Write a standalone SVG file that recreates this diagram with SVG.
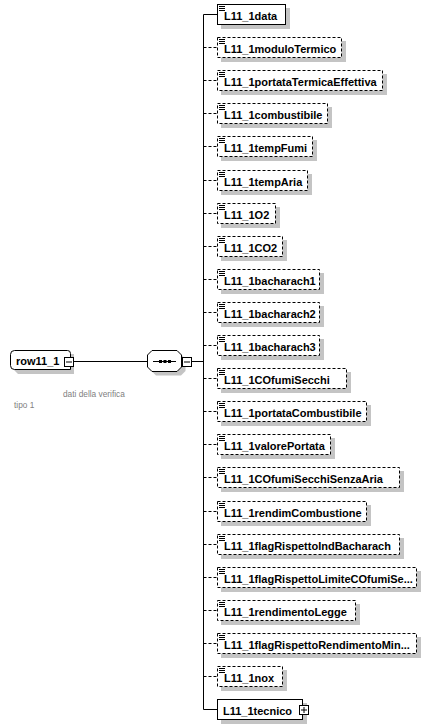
<svg xmlns="http://www.w3.org/2000/svg" width="436" height="728" viewBox="0 0 436 728">
<style>
.bg{fill:#ffffff}
.sh{fill:#c4c4c4}
.box{fill:#ffffff;stroke:#000;stroke-width:1}
.opt{fill:#ffffff;stroke:#000;stroke-width:1;stroke-dasharray:3,2}
.ln{fill:none;stroke:#000;stroke-width:1}
.dl{fill:none;stroke:#000;stroke-width:1;stroke-dasharray:3,2}
.t{font-family:"Liberation Sans",Arial,sans-serif;font-weight:bold;font-size:11px;fill:#000}
.n{font-family:"Liberation Sans",Arial,sans-serif;font-size:8.3px;fill:#808080}
.ic{fill:none;stroke:#000;stroke-width:1}
</style>
<rect class="bg" x="0" y="0" width="436" height="728"/>
<g id="connectors">
<path class="ln" d="M73 361.5H147.5M192 361.5H203.5M203.5 14.5V709.5"/>
<path class="ln" d="M203.5 14.5H217.5M203.5 709.5H217.5"/>
<path class="dl" d="M203.5 47.5H217.5M203.5 80.5H217.5M203.5 113.5H217.5M203.5 146.5H217.5M203.5 180.5H217.5M203.5 213.5H217.5M203.5 246.5H217.5M203.5 279.5H217.5M203.5 312.5H217.5M203.5 345.5H217.5M203.5 378.5H217.5M203.5 411.5H217.5M203.5 444.5H217.5M203.5 477.5H217.5M203.5 511.5H217.5M203.5 544.5H217.5M203.5 577.5H217.5M203.5 610.5H217.5M203.5 643.5H217.5M203.5 676.5H217.5"/>
</g>
<g id="row11_1">
<path class="sh" d="M18 354H74V374H18L14 370V358Z"/>
<path class="box" d="M14.5 350.5H67.5Q70.5 350.5 70.5 353.5V369.5H14.5Q10.5 369.5 10.5 365.5V354.5Q10.5 350.5 14.5 350.5Z"/>
<text class="t" x="16" y="365">row11_1</text>
<rect class="box" x="64.5" y="357.5" width="9" height="9"/>
<path class="ln" d="M66 362H72"/>
<text class="n" x="63" y="397">dati della verifica</text>
<text class="n" x="14" y="408">tipo 1</text>
</g>
<g id="sequence">
<path class="sh" d="M156 354.5H181L185.5 359V371L181 375.5H156L151.5 371V359Z"/>
<path class="box" d="M152 350.5H177L181.5 355V367L177 371.5H152L147.5 367V355Z"/>
<path class="ln" d="M153 361.5H176"/>
<rect x="159" y="360" width="3" height="3" fill="#000"/>
<rect x="163.5" y="360" width="3" height="3" fill="#000"/>
<rect x="168" y="360" width="3" height="3" fill="#000"/>
<rect class="box" x="182.5" y="357.5" width="9" height="9"/>
<path class="ln" d="M184 362H190"/>
</g>
<g id="L11_1data">
<rect class="sh" x="221" y="8" width="69" height="21"/>
<rect class="box" x="217.5" y="4.5" width="68" height="20"/>
<path class="ic" d="M219 6.5h6M219 8.5h6M219 10.5h6"/>
<text class="t" x="224" y="20">L11_1data</text>
</g>
<g id="L11_1moduloTermico">
<rect class="sh" x="221" y="41" width="125" height="21"/>
<rect class="opt" x="217.5" y="37.5" width="124" height="20"/>
<path class="ic" d="M219 39.5h6M219 41.5h6M219 43.5h6"/>
<text class="t" x="224" y="53">L11_1moduloTermico</text>
</g>
<g id="L11_1portataTermicaEffettiva">
<rect class="sh" x="221" y="74" width="166" height="21"/>
<rect class="opt" x="217.5" y="70.5" width="165" height="20"/>
<path class="ic" d="M219 72.5h6M219 74.5h6M219 76.5h6"/>
<text class="t" x="224" y="86">L11_1portataTermicaEffettiva</text>
</g>
<g id="L11_1combustibile">
<rect class="sh" x="221" y="107" width="111" height="21"/>
<rect class="opt" x="217.5" y="103.5" width="110" height="20"/>
<path class="ic" d="M219 105.5h6M219 107.5h6M219 109.5h6"/>
<text class="t" x="224" y="119">L11_1combustibile</text>
</g>
<g id="L11_1tempFumi">
<rect class="sh" x="221" y="140" width="96" height="21"/>
<rect class="opt" x="217.5" y="136.5" width="95" height="20"/>
<path class="ic" d="M219 138.5h6M219 140.5h6M219 142.5h6"/>
<text class="t" x="224" y="152">L11_1tempFumi</text>
</g>
<g id="L11_1tempAria">
<rect class="sh" x="221" y="174" width="91" height="21"/>
<rect class="opt" x="217.5" y="170.5" width="90" height="20"/>
<path class="ic" d="M219 172.5h6M219 174.5h6M219 176.5h6"/>
<text class="t" x="224" y="186">L11_1tempAria</text>
</g>
<g id="L11_1O2">
<rect class="sh" x="221" y="207" width="59" height="21"/>
<rect class="opt" x="217.5" y="203.5" width="58" height="20"/>
<path class="ic" d="M219 205.5h6M219 207.5h6M219 209.5h6"/>
<text class="t" x="224" y="219">L11_1O2</text>
</g>
<g id="L11_1CO2">
<rect class="sh" x="221" y="240" width="66" height="21"/>
<rect class="opt" x="217.5" y="236.5" width="65" height="20"/>
<path class="ic" d="M219 238.5h6M219 240.5h6M219 242.5h6"/>
<text class="t" x="224" y="252">L11_1CO2</text>
</g>
<g id="L11_1bacharach1">
<rect class="sh" x="221" y="273" width="103" height="21"/>
<rect class="opt" x="217.5" y="269.5" width="102" height="20"/>
<path class="ic" d="M219 271.5h6M219 273.5h6M219 275.5h6"/>
<text class="t" x="224" y="285">L11_1bacharach1</text>
</g>
<g id="L11_1bacharach2">
<rect class="sh" x="221" y="306" width="103" height="21"/>
<rect class="opt" x="217.5" y="302.5" width="102" height="20"/>
<path class="ic" d="M219 304.5h6M219 306.5h6M219 308.5h6"/>
<text class="t" x="224" y="318">L11_1bacharach2</text>
</g>
<g id="L11_1bacharach3">
<rect class="sh" x="221" y="339" width="103" height="21"/>
<rect class="opt" x="217.5" y="335.5" width="102" height="20"/>
<path class="ic" d="M219 337.5h6M219 339.5h6M219 341.5h6"/>
<text class="t" x="224" y="351">L11_1bacharach3</text>
</g>
<g id="L11_1COfumiSecchi">
<rect class="sh" x="221" y="372" width="130" height="21"/>
<rect class="opt" x="217.5" y="368.5" width="129" height="20"/>
<path class="ic" d="M219 370.5h6M219 372.5h6M219 374.5h6"/>
<text class="t" x="224" y="384">L11_1COfumiSecchi</text>
</g>
<g id="L11_1portataCombustibile">
<rect class="sh" x="221" y="405" width="150" height="21"/>
<rect class="opt" x="217.5" y="401.5" width="149" height="20"/>
<path class="ic" d="M219 403.5h6M219 405.5h6M219 407.5h6"/>
<text class="t" x="224" y="417">L11_1portataCombustibile</text>
</g>
<g id="L11_1valorePortata">
<rect class="sh" x="221" y="438" width="114" height="21"/>
<rect class="opt" x="217.5" y="434.5" width="113" height="20"/>
<path class="ic" d="M219 436.5h6M219 438.5h6M219 440.5h6"/>
<text class="t" x="224" y="450">L11_1valorePortata</text>
</g>
<g id="L11_1COfumiSecchiSenzaAria">
<rect class="sh" x="221" y="471" width="183" height="21"/>
<rect class="opt" x="217.5" y="467.5" width="182" height="20"/>
<path class="ic" d="M219 469.5h6M219 471.5h6M219 473.5h6"/>
<text class="t" x="224" y="483">L11_1COfumiSecchiSenzaAria</text>
</g>
<g id="L11_1rendimCombustione">
<rect class="sh" x="221" y="505" width="150" height="21"/>
<rect class="opt" x="217.5" y="501.5" width="149" height="20"/>
<path class="ic" d="M219 503.5h6M219 505.5h6M219 507.5h6"/>
<text class="t" x="224" y="517">L11_1rendimCombustione</text>
</g>
<g id="L11_1flagRispettoIndBacharach">
<rect class="sh" x="221" y="538" width="183" height="21"/>
<rect class="opt" x="217.5" y="534.5" width="182" height="20"/>
<path class="ic" d="M219 536.5h6M219 538.5h6M219 540.5h6"/>
<text class="t" x="224" y="550">L11_1flagRispettoIndBacharach</text>
</g>
<g id="L11_1flagRispettoLimiteCOfumiSecchi">
<rect class="sh" x="221" y="571" width="200" height="21"/>
<rect class="opt" x="217.5" y="567.5" width="199" height="20"/>
<path class="ic" d="M219 569.5h6M219 571.5h6M219 573.5h6"/>
<text class="t" x="224" y="583">L11_1flagRispettoLimiteCOfumiSe...</text>
</g>
<g id="L11_1rendimentoLegge">
<rect class="sh" x="221" y="604" width="139" height="21"/>
<rect class="opt" x="217.5" y="600.5" width="138" height="20"/>
<path class="ic" d="M219 602.5h6M219 604.5h6M219 606.5h6"/>
<text class="t" x="224" y="616">L11_1rendimentoLegge</text>
</g>
<g id="L11_1flagRispettoRendimentoMinimo">
<rect class="sh" x="221" y="637" width="200" height="21"/>
<rect class="opt" x="217.5" y="633.5" width="199" height="20"/>
<path class="ic" d="M219 635.5h6M219 637.5h6M219 639.5h6"/>
<text class="t" x="224" y="649">L11_1flagRispettoRendimentoMin...</text>
</g>
<g id="L11_1nox">
<rect class="sh" x="221" y="670" width="66" height="21"/>
<rect class="opt" x="217.5" y="666.5" width="65" height="20"/>
<path class="ic" d="M219 668.5h6M219 670.5h6M219 672.5h6"/>
<text class="t" x="224" y="682">L11_1nox</text>
</g>
<g id="L11_1tecnico">
<rect class="sh" x="221" y="703" width="86" height="21"/>
<rect class="box" x="217.5" y="699.5" width="85" height="20"/>
<text class="t" x="223" y="715">L11_1tecnico</text>
<rect class="box" x="299.5" y="705.5" width="9" height="9"/>
<path class="ln" d="M301 710H307M304 707V713"/>
</g>
</svg>
